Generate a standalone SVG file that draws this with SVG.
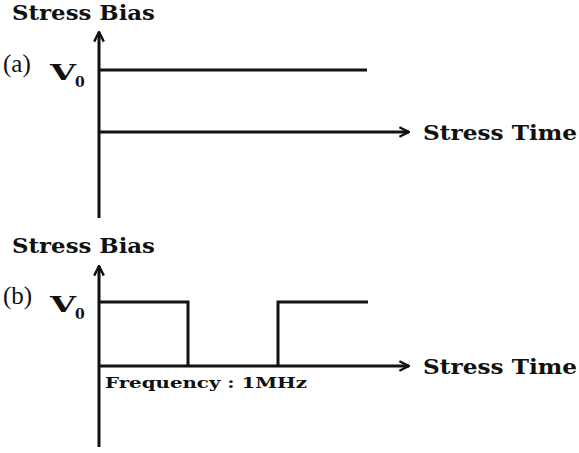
<svg xmlns="http://www.w3.org/2000/svg" width="579" height="453" viewBox="0 0 579 453">
<defs>
<marker id="ah" viewBox="0 0 10 10" refX="9" refY="5" markerWidth="4" markerHeight="4" orient="auto" markerUnits="strokeWidth">
<path d="M1,1 L9,5 L1,9" fill="none" stroke="#111" stroke-width="2"/>
</marker>
<style>
.ax{stroke:#111;stroke-width:3;fill:none}
.sig{stroke:#111;stroke-width:3;fill:none}
.lbl{font-family:"DejaVu Serif","Liberation Serif",serif;font-weight:bold;fill:#111}
.par{font-family:"Liberation Serif",serif;fill:#111}
</style>
</defs>
<rect width="579" height="453" fill="#fff"/>
<g id="connectors">
<line class="ax" x1="99" y1="218" x2="99" y2="32" marker-end="url(#ah)"/>
<line class="ax" x1="99" y1="132" x2="409" y2="132" marker-end="url(#ah)"/>
<line class="ax" x1="99" y1="447" x2="99" y2="266" marker-end="url(#ah)"/>
<line class="ax" x1="99" y1="366" x2="409" y2="366" marker-end="url(#ah)"/>
</g>
<g id="signal-a">
<polyline class="sig" points="99,70 367,70"/>
</g>
<g id="signal-b">
<polyline class="sig" points="99,302 188,302 188,366"/>
<polyline class="sig" points="278,366 278,302 368,302"/>
</g>
<g id="labels-a">
<text class="lbl" x="12" y="20" font-size="20" textLength="143" lengthAdjust="spacingAndGlyphs">Stress Bias</text>
<text class="par" x="3" y="72" font-size="25">(a)</text>
<text class="lbl" x="50" y="80" font-size="22" textLength="26" lengthAdjust="spacingAndGlyphs">V</text>
<text class="lbl" x="75" y="87" font-size="14">0</text>
<text class="lbl" x="423" y="140" font-size="21" textLength="154" lengthAdjust="spacingAndGlyphs">Stress Time</text>
</g>
<g id="labels-b">
<text class="lbl" x="12" y="253" font-size="20" textLength="143" lengthAdjust="spacingAndGlyphs">Stress Bias</text>
<text class="par" x="3" y="304" font-size="25">(b)</text>
<text class="lbl" x="50" y="312" font-size="22" textLength="26" lengthAdjust="spacingAndGlyphs">V</text>
<text class="lbl" x="75" y="319" font-size="14">0</text>
<text class="lbl" x="423" y="374" font-size="21" textLength="154" lengthAdjust="spacingAndGlyphs">Stress Time</text>
<text class="lbl" x="105" y="388" font-size="15" textLength="202" lengthAdjust="spacingAndGlyphs">Frequency : 1MHz</text>
</g>
</svg>
